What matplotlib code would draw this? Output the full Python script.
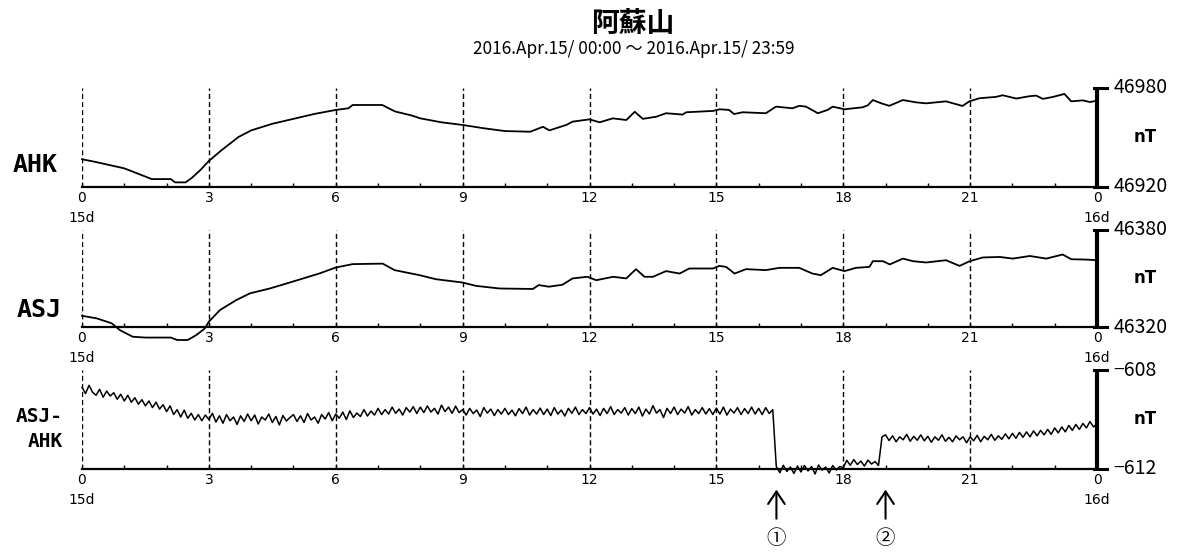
import numpy as np
import matplotlib.pyplot as plt

W, H = 1184, 552

# AHK total force (nT)
ahk_t = [0.0, 0.3, 1.0, 1.5, 1.65, 2.1, 2.2, 2.45, 2.6, 2.8, 3.0, 3.3, 3.7, 4.0, 4.5, 5.0,
         5.5, 6.0, 6.3, 6.4, 7.1, 7.4, 7.8, 8.0, 8.5, 9.0, 9.5, 10.0, 10.6, 10.9, 11.05,
         11.45, 11.6, 12.0, 12.24, 12.55, 12.87, 13.07, 13.26, 13.58, 13.81, 14.2, 14.29,
         14.92, 15.08, 15.3, 15.42, 15.62, 16.17, 16.41, 16.8, 16.96, 17.12, 17.4, 17.63,
         17.75, 18.03, 18.46, 18.58, 18.7, 18.9, 19.09, 19.41, 19.72, 19.96, 20.43, 20.82,
         20.98, 21.22, 21.61, 21.77, 22.09, 22.4, 22.56, 22.72, 22.96, 23.23, 23.39, 23.67,
         23.83, 24.0]
ahk_v = [46936.5, 46935.0, 46931.0, 46926.0, 46924.5, 46924.5, 46922.5, 46922.5, 46925.3,
         46930.0, 46935.5, 46942.0, 46950.0, 46954.0, 46958.0, 46961.0, 46964.0, 46966.4,
         46967.4, 46969.4, 46969.4, 46965.5, 46963.0, 46961.3, 46958.9, 46957.3, 46955.3,
         46953.6, 46953.2, 46956.2, 46954.0, 46957.3, 46959.3, 46960.7, 46958.9, 46961.3,
         46960.3, 46965.3, 46961.0, 46962.3, 46964.4, 46963.6, 46965.0, 46965.8, 46966.8,
         46966.4, 46963.9, 46965.0, 46964.4, 46968.4, 46967.4, 46968.9, 46968.4, 46964.4,
         46966.4, 46968.4, 46966.8, 46968.0, 46969.2, 46972.4, 46970.4, 46968.9, 46972.4,
         46971.0, 46970.4, 46971.6, 46968.8, 46971.6, 46973.5, 46974.3, 46975.3, 46973.3,
         46974.7, 46975.1, 46973.1, 46974.3, 46976.1, 46971.6, 46972.2, 46971.2, 46972.0]

# ASJ total force (nT)
asj_t = [0.0, 0.35, 0.7, 0.9, 1.2, 1.5, 2.1, 2.25, 2.5, 2.7, 2.9, 3.0, 3.26, 3.65, 3.97,
         4.44, 4.84, 5.23, 5.62, 6.0, 6.4, 7.11, 7.39, 7.98, 8.37, 8.99, 9.32, 9.87, 10.66,
         10.8, 11.04, 11.36, 11.6, 11.95, 12.16, 12.56, 12.87, 13.1, 13.3, 13.5, 13.81,
         14.13, 14.36, 14.92, 15.07, 15.23, 15.43, 15.7, 16.17, 16.49, 16.96, 17.27, 17.47,
         17.75, 18.03, 18.3, 18.62, 18.7, 18.94, 19.1, 19.41, 19.65, 19.96, 20.43, 20.75,
         20.99, 21.3, 21.7, 22.01, 22.41, 22.8, 23.19, 23.39, 23.74, 24.0]
asj_v = [46326.9, 46325.3, 46322.3, 46318.0, 46314.0, 46313.5, 46313.5, 46312.0, 46312.0,
         46315.0, 46319.0, 46323.3, 46330.4, 46336.6, 46340.7, 46343.7, 46346.8, 46349.9,
         46353.0, 46356.6, 46358.7, 46359.0, 46355.0, 46351.9, 46349.4, 46347.4, 46345.3,
         46343.7, 46343.4, 46345.8, 46344.8, 46346.0, 46349.9, 46350.9, 46348.8, 46350.9,
         46349.9, 46355.6, 46350.9, 46350.9, 46354.4, 46352.9, 46356.0, 46356.0, 46357.6,
         46357.0, 46352.9, 46355.6, 46355.0, 46356.4, 46356.4, 46352.9, 46351.9, 46356.4,
         46354.4, 46356.4, 46357.0, 46360.5, 46360.5, 46358.5, 46362.1, 46360.5, 46359.7,
         46361.1, 46357.6, 46360.5, 46362.8, 46363.1, 46362.1, 46363.7, 46362.1, 46364.6,
         46361.7, 46361.5, 46361.1]

# ASJ-AHK difference (nT), 5-minute readings, one row per hour
diff_v = [
    -608.70, -608.95, -608.62, -608.90, -609.02, -608.78, -609.10, -608.85, -609.05, -608.92, -609.18, -608.98,
    -609.25, -609.02, -609.30, -609.12, -609.38, -609.20, -609.45, -609.25, -609.52, -609.30, -609.58, -609.40,
    -609.68, -609.45, -609.80, -609.60, -609.90, -609.62, -609.95, -609.75, -610.02, -609.80, -610.05, -609.82,
    -610.00, -609.75, -610.10, -609.85, -610.15, -609.80, -610.05, -609.90, -610.20, -609.85, -610.08, -609.78,
    -610.05, -609.82, -610.18, -609.90, -610.02, -609.78, -610.12, -609.88, -610.22, -609.84, -610.06, -609.92,
    -609.80, -610.08, -609.85, -610.12, -609.76, -610.02, -609.90, -610.15, -609.80, -609.98, -609.72, -610.05,
    -609.78, -609.95, -609.70, -610.00, -609.65, -609.92, -609.74, -609.88, -609.60, -609.86, -609.66, -609.82,
    -609.55, -609.80, -609.60, -609.78, -609.50, -609.75, -609.58, -609.82, -609.52, -609.70, -609.48, -609.76,
    -609.50, -609.72, -609.45, -609.70, -609.55, -609.78, -609.42, -609.68, -609.50, -609.75, -609.46, -609.72,
    -609.60, -609.82, -609.55, -609.76, -609.62, -609.88, -609.52, -609.74, -609.58, -609.84, -609.60, -609.78,
    -609.55, -609.80, -609.62, -609.85, -609.56, -609.76, -609.50, -609.82, -609.60, -609.78, -609.54, -609.80,
    -609.58, -609.84, -609.52, -609.78, -609.62, -609.86, -609.55, -609.75, -609.50, -609.80, -609.60, -609.76,
    -609.52, -609.78, -609.58, -609.84, -609.55, -609.76, -609.48, -609.80, -609.60, -609.74, -609.52, -609.82,
    -609.56, -609.76, -609.50, -609.86, -609.58, -609.78, -609.44, -609.74, -609.60, -609.92, -609.55, -609.76,
    -609.50, -609.80, -609.58, -609.74, -609.48, -609.82, -609.60, -609.76, -609.52, -609.78, -609.56, -609.80,
    -609.54, -609.78, -609.50, -609.82, -609.58, -609.74, -609.52, -609.80, -609.56, -609.76, -609.50, -609.78,
    -609.55, -609.80, -609.52, -609.76, -609.60, -611.90, -612.15, -611.85, -612.10, -611.92, -612.18, -611.88,
    -612.12, -611.86, -612.08, -611.90, -612.20, -611.84, -612.05, -611.92, -612.16, -611.86, -612.04, -611.90,
    -611.95, -611.65, -611.85, -611.62, -611.82, -611.68, -611.88, -611.64, -611.80, -611.70, -611.86, -610.70,
    -610.62, -610.85, -610.66, -610.90, -610.70, -610.82, -610.60, -610.88, -610.68, -610.84, -610.62, -610.86,
    -610.68, -610.92, -610.70, -610.84, -610.62, -610.88, -610.72, -610.90, -610.66, -610.82, -610.70, -610.94,
    -610.70, -610.86, -610.64, -610.90, -610.68, -610.82, -610.60, -610.84, -610.66, -610.80, -610.58, -610.78,
    -610.56, -610.76, -610.52, -610.72, -610.50, -610.70, -610.46, -610.66, -610.44, -610.62, -610.40, -610.60,
    -610.34, -610.54, -610.30, -610.50, -610.24, -610.44, -610.20, -610.40, -610.16, -610.34, -610.08, -610.30,
    -610.18]
diff_t = np.arange(len(diff_v)) * 5 / 60

hour_ticks = [0, 3, 6, 9, 12, 15, 18, 21, 24]
hour_labels = ['0', '3', '6', '9', '12', '15', '18', '21', '0']
y_ranges = [(46920, 46980), (46320, 46380), (-612, -608)]
y_labels = [('46920', '46980'), ('46320', '46380'), ('\u2212612', '\u2212608')]
arrow_hours = [16.42, 19.0]
arrow_marks = ['\u2460', '\u2461']

cjk = ['Noto Sans CJK JP', 'DejaVu Sans']

fig = plt.figure(figsize=(W / 100, H / 100), dpi=100)


def add_panel(top, bottom):
    return fig.add_axes([82 / W, 1 - bottom / H, (1097 - 82) / W, (bottom - top) / H])


panels = [(87.5, 186.5), (229.5, 327), (370, 469)]
series = [(ahk_t, ahk_v, 1.3), (asj_t, asj_v, 1.3), (diff_t, diff_v, 1.1)]
axes = []
for (top, bottom), (t, v, lw), (lo, hi), (lab_lo, lab_hi) in zip(panels, series, y_ranges, y_labels):
    ax = add_panel(top, bottom)
    axes.append(ax)
    ax.set_xlim(0, 24)
    ax.set_ylim(lo, hi)
    for s in ['top', 'left', 'right']:
        ax.spines[s].set_visible(False)
    ax.spines['bottom'].set_linewidth(1.6)
    ax.set_yticks([])
    ax.set_xticks(hour_ticks, hour_labels)
    ax.set_xticks(range(25), minor=True)
    ax.tick_params(axis='x', which='both', direction='in', length=3, width=1, pad=3,
                   labelsize=10)
    ax.vlines(hour_ticks[:-1], lo, hi, colors='black', linewidth=1,
              linestyles=(0, (3.6, 2.2)))
    ax.plot(t, v, color='black', linewidth=lw, clip_on=False)
    # right-hand scale bar
    ax.plot([24, 24], [lo, hi], color='black', linewidth=3, clip_on=False,
            solid_capstyle='butt')
    for yv, txt in [(lo, lab_lo), (hi, lab_hi)]:
        ax.plot([23.93, 24.24], [yv, yv], color='black', linewidth=2.2, clip_on=False)
        ax.annotate(txt, xy=(24, yv), xytext=(12, 0), textcoords='offset points',
                    ha='left', va='center', fontsize=14, family=cjk)
    ax.annotate('nT', xy=(24, 0.5), xycoords=('data', 'axes fraction'),
                xytext=(35, 0), textcoords='offset points', ha='center', va='center',
                fontsize=12, fontweight='bold')
    for hx, dlab in [(0, '15d'), (24, '16d')]:
        ax.annotate(dlab, xy=(hx, 0), xycoords=('data', 'axes fraction'),
                    xytext=(0, -22.5), textcoords='offset points', ha='center',
                    va='center', fontsize=10)

mono = dict(family='DejaVu Sans Mono', fontweight='bold')
fig.text(58 / W, 1 - 165 / H, 'AHK', ha='right', va='center', fontsize=18, **mono)
fig.text(62 / W, 1 - 310 / H, 'ASJ', ha='right', va='center', fontsize=18, **mono)
fig.text(63 / W, 1 - 429 / H, 'ASJ-\nAHK', ha='right', va='center', fontsize=14,
         multialignment='right', linespacing=1.4, **mono)

fig.text(633 / W, 1 - 24 / H, '阿蘇山', ha='center', va='center', fontsize=20,
         fontweight='bold', family=cjk)
fig.text(634 / W, 1 - 48.5 / H, '2016.Apr.15/ 00:00 ～ 2016.Apr.15/ 23:59',
         ha='center', va='center', fontsize=12.4, family=cjk)

ax3 = axes[2]
for hx, mark in zip(arrow_hours, arrow_marks):
    ax3.annotate('', xy=(hx, -0.18), xycoords=('data', 'axes fraction'),
                 xytext=(hx, -0.53), textcoords=('data', 'axes fraction'),
                 arrowprops=dict(arrowstyle='->,head_length=0.45,head_width=0.3',
                                 mutation_scale=20, lw=1.5, color='black'))
    ax3.text(hx, -0.70, mark, transform=ax3.get_xaxis_transform(), ha='center',
             va='center', fontsize=14, family=cjk)

fig.savefig('out.png', dpi=100)
